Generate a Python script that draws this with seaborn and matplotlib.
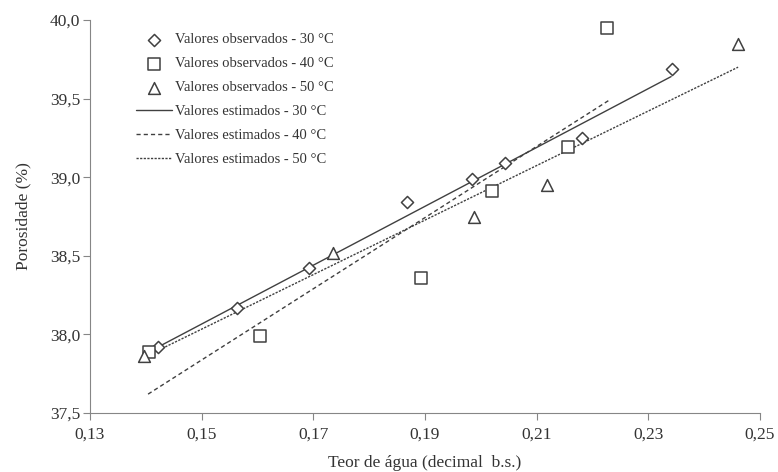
import matplotlib

matplotlib.use("Agg")
import matplotlib.pyplot as plt  # noqa: E402
import pandas as pd  # noqa: E402
import seaborn as sns  # noqa: E402
from matplotlib.ticker import FuncFormatter  # noqa: E402

# observed values (teor de agua, porosidade)
obs30_x = [0.1422, 0.1563, 0.1692, 0.1868, 0.1984, 0.2043, 0.2181, 0.2342]
obs30_y = [37.92, 38.17, 38.42, 38.84, 38.99, 39.09, 39.25, 39.69]
obs40_x = [0.1406, 0.1604, 0.1893, 0.2020, 0.2156, 0.2226]
obs40_y = [37.89, 37.99, 38.36, 38.91, 39.19, 39.95]
obs50_x = [0.1397, 0.1735, 0.1988, 0.2119, 0.2461]
obs50_y = [37.86, 38.52, 38.75, 38.95, 39.85]

# estimated (fitted) lines, end points
est30_x = [0.1422, 0.2341]
est30_y = [37.92, 39.64]
est40_x = [0.1404, 0.2230]
est40_y = [37.62, 39.49]
est50_x = [0.1400, 0.2461]
est50_y = [37.86, 39.70]

x_ticks = [0.13, 0.15, 0.17, 0.19, 0.21, 0.23, 0.25]
y_ticks = [37.5, 38.0, 38.5, 39.0, 39.5, 40.0]

sns.set_style("white")
plt.rcParams["font.family"] = ["Liberation Serif", "DejaVu Serif"]

text_color = "#333333"
axis_color = "#868686"
mark_color = "#404040"

fig = plt.figure(figsize=(7.78, 4.72), dpi=100)
ax = fig.add_axes([0.1157, 0.125, 0.861, 0.8326])

obs = [
    (obs30_x, obs30_y, "D", 38, "Valores observados - 30 °C"),
    (obs40_x, obs40_y, "s", 70, "Valores observados - 40 °C"),
    (obs50_x, obs50_y, "^", 72, "Valores observados - 50 °C"),
]
for xs, ys, mk, size, label in obs:
    df = pd.DataFrame({"x": xs, "y": ys})
    sns.scatterplot(data=df, x="x", y="y", ax=ax, marker=mk, s=size,
                    facecolor="white", edgecolor=mark_color, linewidth=1.1,
                    label=label, zorder=3)

est = [
    (est30_x, est30_y, (None, None), "Valores estimados - 30 °C"),
    (est40_x, est40_y, (3.0, 2.2), "Valores estimados - 40 °C"),
    (est50_x, est50_y, (1.6, 1.0), "Valores estimados - 50 °C"),
]
for xs, ys, dash, label in est:
    df = pd.DataFrame({"x": xs, "y": ys})
    line = sns.lineplot(data=df, x="x", y="y", ax=ax, color=mark_color,
                        linewidth=1.0, label=label, zorder=2)
    if dash[0] is not None:
        line.get_lines()[-1].set_dashes(dash)

ax.set_xlim(0.13, 0.25)
ax.set_ylim(37.5, 40.0)
ax.set_xticks(x_ticks)
ax.set_yticks(y_ticks)
ax.xaxis.set_major_formatter(FuncFormatter(lambda v, p: f"{v:.2f}".replace(".", ",")))
ax.yaxis.set_major_formatter(FuncFormatter(lambda v, p: f"{v:.1f}".replace(".", ",")))

ax.set_xlabel("Teor de água (decimal  b.s.)", fontsize=12.5, color=text_color, labelpad=9)
ax.set_ylabel("Porosidade (%)", fontsize=12.5, color=text_color, labelpad=13)

ax.tick_params(axis="x", direction="out", length=5, width=0.8, color=axis_color,
               labelcolor=text_color, labelsize=12.5, bottom=True, pad=5)
ax.tick_params(axis="y", direction="out", length=5, width=0.8, color=axis_color,
               labelcolor=text_color, labelsize=12.5, left=True, pad=2)
for side in ("top", "right"):
    ax.spines[side].set_visible(False)
for side in ("left", "bottom"):
    ax.spines[side].set_color(axis_color)
    ax.spines[side].set_linewidth(0.8)

leg = ax.legend(loc="upper left", bbox_to_anchor=(0.049, 1.0), frameon=False,
                fontsize=10.5, labelspacing=0.74, handlelength=2.5, handletextpad=0.2)
for t in leg.get_texts():
    t.set_color(text_color)

fig.savefig("out.png", dpi=100)
plt.close(fig)
